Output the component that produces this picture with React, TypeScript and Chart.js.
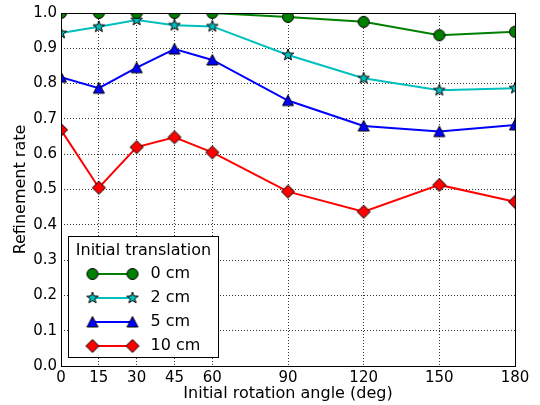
import React, { useEffect, useRef } from "react";
import { Chart, registerables } from "chart.js";
Chart.register(...registerables);

const angles = [0, 15, 30, 45, 60, 90, 120, 150, 180];
const rate0cm = [1.0, 1.0, 1.0, 1.0, 1.0, 0.989, 0.975, 0.937, 0.947];
const rate2cm = [0.943, 0.961, 0.98, 0.965, 0.962, 0.881, 0.815, 0.781, 0.787];
const rate5cm = [0.818, 0.787, 0.845, 0.898, 0.867, 0.752, 0.68, 0.664, 0.683];
const rate10cm = [0.669, 0.505, 0.62, 0.648, 0.605, 0.494, 0.437, 0.513, 0.465];
const seriesLabels = ["0 cm", "2 cm", "5 cm", "10 cm"];
const seriesColors = ["#008000", "#00BFBF", "#0000FF", "#FF0000"];
const seriesMarkers = ["circle", "star", "triangle", "diamond"];
const xTicks = [0, 15, 30, 45, 60, 90, 120, 150, 180];
const yTicks = [0, 0.1, 0.2, 0.3, 0.4, 0.5, 0.6, 0.7, 0.8, 0.9, 1.0];
const legendTitle = "Initial translation";
const xTitle = "Initial rotation angle (deg)";
const yTitle = "Refinement rate";

const FONT = "'DejaVu Sans', sans-serif";

function makeMarker(kind: string, color: string): HTMLCanvasElement {
  const S = 20;
  const c = document.createElement("canvas");
  c.width = S;
  c.height = S;
  const ctx = c.getContext("2d")!;
  const cx = S / 2, cy = S / 2;
  ctx.beginPath();
  if (kind === "circle") {
    ctx.arc(cx, cy, 5.5, 0, Math.PI * 2);
  } else if (kind === "triangle") {
    ctx.moveTo(cx, cy - 5.5);
    ctx.lineTo(cx + 5.5, cy + 5);
    ctx.lineTo(cx - 5.5, cy + 5);
    ctx.closePath();
  } else if (kind === "diamond") {
    ctx.moveTo(cx, cy - 6.5);
    ctx.lineTo(cx + 6.5, cy);
    ctx.lineTo(cx, cy + 6.5);
    ctx.lineTo(cx - 6.5, cy);
    ctx.closePath();
  } else {
    const R = 6, r = 2.5;
    for (let i = 0; i < 10; i++) {
      const a = -Math.PI / 2 + (i * Math.PI) / 5;
      const rr = i % 2 === 0 ? R : r;
      const x = cx + rr * Math.cos(a), y = cy + rr * Math.sin(a);
      if (i === 0) ctx.moveTo(x, y); else ctx.lineTo(x, y);
    }
    ctx.closePath();
  }
  ctx.fillStyle = color;
  ctx.fill();
  ctx.lineWidth = 1;
  ctx.strokeStyle = "#000";
  ctx.stroke();
  return c;
}

export default function App() {
  const ref = useRef<HTMLCanvasElement | null>(null);
  useEffect(() => {
    document.body.style.margin = "0";
    const markers = seriesMarkers.map((m, i) => makeMarker(m, seriesColors[i]));
    const allSeries = [rate0cm, rate2cm, rate5cm, rate10cm];

    const framePlugin = {
      id: "frameAndLegend",
      afterDatasetsDraw(chart: any) {
        const { ctx, chartArea } = chart;
        const { left, right, top, bottom } = chartArea;
        ctx.save();
        ctx.strokeStyle = "#000";
        ctx.lineWidth = 1;
        ctx.strokeRect(Math.round(left) + 0.5, Math.round(top) + 0.5, Math.round(right - left), Math.round(bottom - top));

        // legend
        const bx = left + 7.5, bw = 150, bh = 121;
        const by = bottom - 9 - bh + 0.5;
        ctx.fillStyle = "#fff";
        ctx.fillRect(bx, by, bw, bh);
        ctx.strokeStyle = "#000";
        ctx.strokeRect(bx, by, bw, bh);
        ctx.fillStyle = "#000";
        ctx.font = `16px ${FONT}`;
        ctx.textBaseline = "middle";
        ctx.textAlign = "center";
        ctx.fillText(legendTitle, bx + bw / 2, by + 14);
        ctx.textAlign = "left";
        for (let i = 0; i < seriesLabels.length; i++) {
          const y = by + 37.5 + i * 24;
          const x1 = bx + 24, x2 = bx + 64;
          ctx.strokeStyle = seriesColors[i];
          ctx.lineWidth = 2;
          ctx.beginPath();
          ctx.moveTo(x1, y);
          ctx.lineTo(x2, y);
          ctx.stroke();
          const m = markers[i];
          ctx.drawImage(m, x1 - m.width / 2, y - m.height / 2);
          ctx.drawImage(m, x2 - m.width / 2, y - m.height / 2);
          ctx.fillStyle = "#000";
          ctx.fillText(seriesLabels[i], bx + 82, y);
        }
        ctx.restore();
      },
    };

    const chart = new Chart(ref.current!, {
      type: "line",
      data: {
        datasets: allSeries.map((vals, i) => ({
          label: seriesLabels[i],
          data: angles.map((a, j) => ({ x: a, y: vals[j] })),
          borderColor: seriesColors[i],
          backgroundColor: seriesColors[i],
          borderWidth: 2,
          pointStyle: markers[i] as any,
          pointRadius: 6,
          pointHoverRadius: 6,
          tension: 0,
          clip: 0,
        })),
      },
      options: {
        animation: false,
        responsive: false,
        events: [],
        layout: { padding: { top: 13, right: 25, left: 0, bottom: 0 } },
        plugins: { legend: { display: false }, tooltip: { enabled: false } },
        scales: {
          x: {
            type: "linear",
            min: 0,
            max: 180,
            afterBuildTicks: (scale: any) => {
              scale.ticks = xTicks.map((v) => ({ value: v }));
            },
            afterFit: (scale: any) => {
              scale.height = 39;
            },
            ticks: {
              color: "#000",
              font: { family: FONT, size: 15 },
              padding: 3,
              maxRotation: 0,
              autoSkip: false,
            },
            grid: { color: "#000", lineWidth: 0.8, drawTicks: false },
            border: { display: false, dash: [1, 2] },
            title: {
              display: true,
              text: xTitle,
              color: "#000",
              font: { family: FONT, size: 16 },
              padding: { top: 2, bottom: 2 },
            },
          },
          y: {
            type: "linear",
            min: 0,
            max: 1,
            afterBuildTicks: (scale: any) => {
              scale.ticks = yTicks.map((v) => ({ value: v }));
            },
            afterFit: (scale: any) => {
              scale.width = 61;
            },
            ticks: {
              color: "#000",
              font: { family: FONT, size: 15 },
              padding: 4,
              callback: (v: any) => Number(v).toFixed(1),
            },
            grid: { color: "#000", lineWidth: 0.8, drawTicks: false },
            border: { display: false, dash: [1, 2] },
            title: {
              display: true,
              text: yTitle,
              color: "#000",
              font: { family: FONT, size: 16 },
              padding: { top: 11, bottom: 11 },
            },
          },
        },
      },
      plugins: [framePlugin],
    });
    return () => chart.destroy();
  }, []);
  return (
    <div style={{ position: "fixed", left: 0, top: 0, width: 540, height: 405, background: "#fff" }}>
      <canvas ref={ref} width={540} height={405} style={{ width: 540, height: 405 }} />
    </div>
  );
}
